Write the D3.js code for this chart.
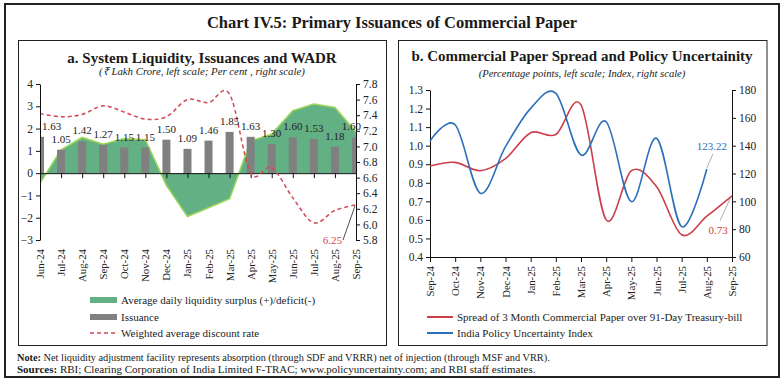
<!DOCTYPE html>
<html>
<head>
<meta charset="utf-8">
<script src="https://cdn.jsdelivr.net/npm/d3@7"></script>
<style>
  body { margin: 0; background: #fff; }
  svg { display: block; font-family: "Liberation Serif", serif; }
</style>
</head>
<body>
<div id="chart"></div>
<script>
// ---- data ----
const monthsA = ["Jun-24", "Jul-24", "Aug-24", "Sep-24", "Oct-24", "Nov-24", "Dec-24", "Jan-25",
                 "Feb-25", "Mar-25", "Apr-25", "May-25", "Jun-25", "Jul-25", "Aug-25", "Sep-25"];
const liquidity = [-0.45, 1.05, 1.6, 1.3, 1.55, 1.5, -0.55, -1.95, -1.55, -1.15, 1.45, 1.75, 2.8, 3.1, 2.95, 1.85];
const issuance = [1.63, 1.05, 1.42, 1.27, 1.15, 1.15, 1.50, 1.09, 1.46, 1.85, 1.63, 1.30, 1.60, 1.53, 1.18, 1.60];
const wadr = [7.42, 7.38, 7.41, 7.52, 7.44, 7.35, 7.38, 7.60, 7.56, 7.67, 6.66, 6.73, 6.34, 6.02, 6.18, 6.25];
const leftTicksA = [-3, -2, -1, 0, 1, 2, 3, 4];
const rightTicksA = [5.8, 6.0, 6.2, 6.4, 6.6, 6.8, 7.0, 7.2, 7.4, 7.6, 7.8];

const monthsB = ["Sep-24", "Oct-24", "Nov-24", "Dec-24", "Jan-25", "Feb-25", "Mar-25",
                 "Apr-25", "May-25", "Jun-25", "Jul-25", "Aug-25", "Sep-25"];
const spread = [0.89, 0.91, 0.865, 0.93, 1.07, 1.06, 1.22, 0.60, 0.865, 0.78, 0.52, 0.62, 0.73];
const uncertainty = [143.4, 155, 105.8, 139.3, 166.8, 177.6, 133.3, 157.2, 99.8, 145.3, 81.8, 123.22];
const leftTicksB = [0.4, 0.5, 0.6, 0.7, 0.8, 0.9, 1.0, 1.1, 1.2, 1.3];
const rightTicksB = [60, 80, 100, 120, 140, 160, 180];

const GREEN = '#62b083', LIME = '#9bd65a', GREY = '#808080', RED_DASH = '#cf4a55';
const RED = '#cc3f4a', BLUE = '#2b6fbb';

const svg = d3.select('#chart').append('svg')
    .attr('width', 784)
    .attr('height', 383);

// frames
svg.append('rect').attr('x', 5).attr('y', 4).attr('width', 774).attr('height', 373)
    .attr('fill', 'none').attr('stroke', '#222').attr('stroke-width', 2);
svg.append('rect').attr('x', 18.5).attr('y', 40.5).attr('width', 368).attr('height', 305)
    .attr('fill', 'none').attr('stroke', '#222').attr('stroke-width', 1);
svg.append('rect').attr('x', 398.5).attr('y', 40.5).attr('width', 368.5).attr('height', 305)
    .attr('fill', 'none').attr('stroke', '#222').attr('stroke-width', 1);

svg.append('text').attr('x', 392).attr('y', 28).attr('text-anchor', 'middle')
    .style('font-size', '16.5px').style('font-weight', 'bold').attr('fill', '#1a1a1a')
    .text('Chart IV.5: Primary Issuances of Commercial Paper');

// note / sources
let note = svg.append('text').attr('x', 17).attr('y', 361).style('font-size', '10.3px').attr('fill', '#1a1a1a');
note.append('tspan').style('font-weight', 'bold').text('Note:');
note.append('tspan').text(' Net liquidity adjustment facility represents absorption (through SDF and VRRR) net of injection (through MSF and VRR).');
note = svg.append('text').attr('x', 17).attr('y', 373).style('font-size', '11px').attr('fill', '#1a1a1a');
note.append('tspan').style('font-weight', 'bold').text('Sources:');
note.append('tspan').text(' RBI; Clearing Corporation of India Limited F-TRAC; www.policyuncertainty.com; and RBI staff estimates.');

function styleAxis(g) {
    g.selectAll('text').style('font-size', '11.5px').attr('fill', '#222').style('font-family', '"Liberation Serif", serif');
    g.selectAll('line, path').attr('stroke', '#111');
}

// ================= panel a =================
const pa = svg.append('g');
pa.append('text').attr('x', 202).attr('y', 63).attr('text-anchor', 'middle')
    .style('font-size', '15px').style('font-weight', 'bold').attr('fill', '#1a1a1a')
    .text('a. System Liquidity, Issuances and WADR');
pa.append('text').attr('x', 202).attr('y', 75).attr('text-anchor', 'middle')
    .style('font-size', '10.8px').style('font-style', 'italic').attr('fill', '#1a1a1a')
    .text('(₹ Lakh Crore, left scale; Per cent , right scale)');

const xA = d3.scalePoint().domain(monthsA).range([40, 356]);
const yL = d3.scaleLinear().domain([-3, 4]).range([240, 84]);
const yR = d3.scaleLinear().domain([5.8, 7.8]).range([240, 84]);

svg.append('clipPath').attr('id', 'clipA').append('rect')
    .attr('x', 40).attr('y', 60).attr('width', 316).attr('height', 200);

const plotA = pa.append('g').attr('clip-path', 'url(#clipA)');

// liquidity area
plotA.append('path').datum(liquidity)
    .attr('fill', GREEN)
    .attr('d', d3.area().x((d, i) => xA(monthsA[i])).y0(yL(0)).y1(d => yL(d)));
plotA.append('path').datum(liquidity)
    .attr('fill', 'none').attr('stroke', LIME).attr('stroke-width', 1.6)
    .attr('d', d3.line().x((d, i) => xA(monthsA[i])).y(d => yL(d)));

// issuance bars
const barW = 8;
plotA.selectAll('rect.bar').data(issuance).enter().append('rect')
    .attr('class', 'bar')
    .attr('x', (d, i) => xA(monthsA[i]) - barW / 2)
    .attr('y', d => yL(d))
    .attr('width', barW)
    .attr('height', d => yL(0) - yL(d))
    .attr('fill', GREY);

// zero axis with ticks downward
pa.append('g').attr('transform', `translate(0,${yL(0)})`)
    .call(d3.axisBottom(xA).tickSize(5).tickSizeOuter(0).tickFormat(''))
    .call(styleAxis);

// WADR dashed line
pa.append('path').datum(wadr)
    .attr('fill', 'none').attr('stroke', RED_DASH).attr('stroke-width', 1.5)
    .attr('stroke-dasharray', '4,3')
    .attr('d', d3.line().curve(d3.curveCardinal.tension(0))
        .x((d, i) => xA(monthsA[i])).y(d => yR(d)));

// bar labels (first and last nudged inside the plot)
const nA = monthsA.length - 1;
pa.selectAll('text.blbl').data(issuance).enter().append('text')
    .attr('class', 'blbl')
    .attr('x', (d, i) => i === 0 ? xA(monthsA[i]) + 2 : (i === nA ? xA(monthsA[i]) + 5 : xA(monthsA[i])))
    .attr('y', d => yL(d) - 7)
    .attr('text-anchor', (d, i) => i === 0 ? 'start' : (i === nA ? 'end' : 'middle'))
    .style('font-size', '11px').attr('fill', '#222')
    .text(d => d.toFixed(2));

// axes
pa.append('g').attr('transform', 'translate(40,0)')
    .call(d3.axisLeft(yL).tickValues(leftTicksA).tickSize(4).tickSizeOuter(0).tickPadding(3)
        .tickFormat(d3.format('d')))
    .call(styleAxis);
pa.append('g').attr('transform', 'translate(356,0)')
    .call(d3.axisRight(yR).tickValues(rightTicksA).tickSize(4).tickSizeOuter(0).tickPadding(3)
        .tickFormat(d3.format('.1f')))
    .call(styleAxis);

// month labels
pa.selectAll('text.mA').data(monthsA).enter().append('text')
    .attr('class', 'mA')
    .attr('transform', d => `translate(${xA(d) + 4},249)rotate(-90)`)
    .attr('text-anchor', 'end')
    .style('font-size', '10.8px').attr('fill', '#222')
    .text(d => d);

// last WADR label
pa.append('line')
    .attr('x1', xA(monthsA[nA]) - 13).attr('y1', 240)
    .attr('x2', xA(monthsA[nA]) - 1).attr('y2', yR(wadr[nA]) + 1)
    .attr('stroke', '#222').attr('stroke-width', 0.8);
pa.append('text').attr('x', xA(monthsA[nA]) - 14).attr('y', 244).attr('text-anchor', 'end')
    .style('font-size', '11px').attr('fill', RED_DASH).text(wadr[nA].toFixed(2));

// legend a
const legA = pa.append('g').style('font-size', '11px').attr('fill', '#222');
legA.append('rect').attr('x', 90).attr('y', 297).attr('width', 27).attr('height', 6).attr('fill', GREEN);
legA.append('text').attr('x', 121).attr('y', 304).text('Average daily liquidity surplus (+)/deficit(-)');
legA.append('rect').attr('x', 90).attr('y', 314).attr('width', 27).attr('height', 6).attr('fill', GREY);
legA.append('text').attr('x', 121).attr('y', 321).text('Issuance');
legA.append('line').attr('x1', 90).attr('x2', 117).attr('y1', 333).attr('y2', 333)
    .attr('stroke', RED_DASH).attr('stroke-width', 1.5).attr('stroke-dasharray', '4,3');
legA.append('text').attr('x', 121).attr('y', 337).text('Weighted average discount rate');

// ================= panel b =================
const pb = svg.append('g');
pb.append('text').attr('x', 582).attr('y', 61).attr('text-anchor', 'middle')
    .style('font-size', '15px').style('font-weight', 'bold').attr('fill', '#1a1a1a')
    .text('b. Commercial Paper Spread and Policy Uncertainity');
pb.append('text').attr('x', 582).attr('y', 77).attr('text-anchor', 'middle')
    .style('font-size', '10.6px').style('font-style', 'italic').attr('fill', '#1a1a1a')
    .text('(Percentage points, left scale; Index, right scale)');

const xB = d3.scalePoint().domain(monthsB).range([430, 732]);
const ySp = d3.scaleLinear().domain([0.4, 1.3]).range([257, 90]);
const yIdx = d3.scaleLinear().domain([60, 180]).range([257, 90]);

pb.append('g').attr('transform', 'translate(0,257)')
    .call(d3.axisBottom(xB).tickSize(5).tickSizeOuter(0).tickFormat(''))
    .call(styleAxis);
pb.append('g').attr('transform', 'translate(430,0)')
    .call(d3.axisLeft(ySp).tickValues(leftTicksB).tickSize(4).tickSizeOuter(0).tickPadding(3)
        .tickFormat(d3.format('.1f')))
    .call(styleAxis);
pb.append('g').attr('transform', 'translate(732,0)')
    .call(d3.axisRight(yIdx).tickValues(rightTicksB).tickSize(4).tickSizeOuter(0).tickPadding(3))
    .call(styleAxis);

const smooth = d3.curveCardinal.tension(0);
pb.append('path').datum(spread)
    .attr('fill', 'none').attr('stroke', RED).attr('stroke-width', 1.6)
    .attr('d', d3.line().curve(smooth).x((d, i) => xB(monthsB[i])).y(d => ySp(d)));
pb.append('path').datum(uncertainty)
    .attr('fill', 'none').attr('stroke', BLUE).attr('stroke-width', 1.6)
    .attr('d', d3.line().curve(smooth).x((d, i) => xB(monthsB[i])).y(d => yIdx(d)));

pb.selectAll('text.mB').data(monthsB).enter().append('text')
    .attr('class', 'mB')
    .attr('transform', d => `translate(${xB(d) + 4},266)rotate(-90)`)
    .attr('text-anchor', 'end')
    .style('font-size', '10.8px').attr('fill', '#222')
    .text(d => d);

// end labels
const lu = uncertainty.length - 1;
const ux = xB(monthsB[lu]), uy = yIdx(uncertainty[lu]);
pb.append('line').attr('x1', ux + 6).attr('y1', uy - 15).attr('x2', ux).attr('y2', uy - 1)
    .attr('stroke', '#999').attr('stroke-width', 0.8);
pb.append('text').attr('x', ux + 5).attr('y', uy - 19).attr('text-anchor', 'middle')
    .style('font-size', '11px').attr('fill', BLUE).text(uncertainty[lu].toFixed(2));

const ls = spread.length - 1;
const sx = xB(monthsB[ls]), sy = ySp(spread[ls]);
pb.append('line').attr('x1', sx - 12).attr('y1', sy + 25).attr('x2', sx - 1).attr('y2', sy + 1)
    .attr('stroke', '#999').attr('stroke-width', 0.8);
pb.append('text').attr('x', sx - 14).attr('y', sy + 38).attr('text-anchor', 'middle')
    .style('font-size', '11px').attr('fill', RED).text(spread[ls].toFixed(2));

// legend b
const legB = pb.append('g').style('font-size', '11px').attr('fill', '#222');
legB.append('line').attr('x1', 427).attr('x2', 453).attr('y1', 317).attr('y2', 317)
    .attr('stroke', RED).attr('stroke-width', 2);
legB.append('text').attr('x', 457).attr('y', 321).text('Spread of 3 Month Commercial Paper over 91-Day Treasury-bill');
legB.append('line').attr('x1', 427).attr('x2', 453).attr('y1', 333).attr('y2', 333)
    .attr('stroke', BLUE).attr('stroke-width', 2);
legB.append('text').attr('x', 457).attr('y', 337).text('India Policy Uncertainty Index');
</script>
</body>
</html>
